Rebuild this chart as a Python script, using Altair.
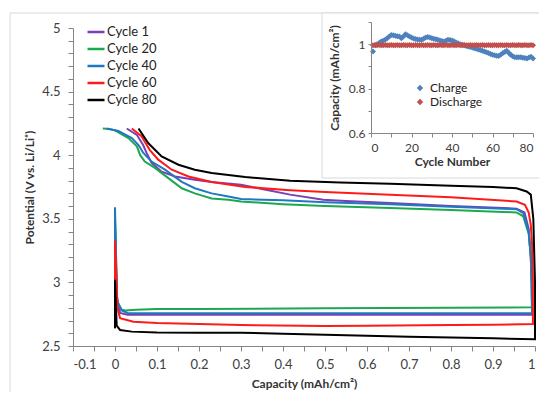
import altair as alt
import pandas as pd

# ---------------- main chart data ----------------
cycle_names = ["Cycle 1", "Cycle 20", "Cycle 40", "Cycle 60", "Cycle 80"]
cycle_colors = ["#7B3FB5", "#1BA84F", "#1F78C1", "#FF1A1A", "#000000"]

cap_c1 = [0.0, 0.0, 0.004, 0.012, 0.03, 0.1, 0.3, 0.5, 0.7, 0.9, 0.993, 0.992, 0.99, 0.985, 0.975,
          0.956, 0.8, 0.655, 0.55, 0.496, 0.417, 0.35, 0.3, 0.23, 0.19, 0.143, 0.111, 0.087, 0.075,
          0.067, 0.052, 0.028]
pot_c1 = [2.75, 3.45, 2.90, 2.76, 2.745, 2.745, 2.745, 2.745, 2.745, 2.745, 2.745, 3.0, 3.2, 3.42, 3.55,
          3.58, 3.60, 3.624, 3.64, 3.65, 3.69, 3.735, 3.768, 3.79, 3.807, 3.833, 3.87, 3.94, 4.02,
          4.08, 4.16, 4.21]

cap_c20 = [0.0, 0.0, 0.005, 0.016, 0.025, 0.05, 0.1, 0.2, 0.5, 0.8, 0.993, 0.992, 0.99, 0.985, 0.972,
           0.956, 0.8, 0.655, 0.5, 0.4, 0.3, 0.27, 0.23, 0.19, 0.159, 0.127, 0.095, 0.071, 0.06,
           0.052, 0.032, 0.0, -0.012, -0.029]
pot_c20 = [2.78, 3.50, 2.85, 2.785, 2.78, 2.785, 2.79, 2.79, 2.797, 2.80, 2.805, 3.0, 3.2, 3.38, 3.52,
           3.55, 3.57, 3.585, 3.60, 3.615, 3.636, 3.65, 3.66, 3.70, 3.74, 3.82, 3.90, 3.95, 4.0,
           4.07, 4.135, 4.195, 4.205, 4.21]

cap_c40 = [0.0, 0.0, 0.005, 0.016, 0.03, 0.1, 0.3, 0.5, 0.7, 0.9, 0.993, 0.992, 0.99, 0.985, 0.972,
           0.956, 0.8, 0.655, 0.5, 0.4, 0.3, 0.27, 0.23, 0.19, 0.159, 0.119, 0.087, 0.067, 0.056,
           0.04, 0.008, -0.02]
pot_c40 = [2.76, 3.59, 2.85, 2.78, 2.76, 2.757, 2.757, 2.757, 2.757, 2.757, 2.757, 3.0, 3.2, 3.40, 3.545,
           3.576, 3.595, 3.615, 3.63, 3.645, 3.655, 3.676, 3.70, 3.74, 3.79, 3.886, 3.95, 4.02, 4.08,
           4.135, 4.19, 4.21]

cap_c60 = [0.0, 0.0, 0.006, 0.012, 0.044, 0.1, 0.3, 0.5, 0.6, 0.8, 0.9, 0.995, 0.995, 0.993, 0.99,
           0.985, 0.976, 0.956, 0.8, 0.655, 0.5, 0.417, 0.31, 0.23, 0.175, 0.135, 0.103, 0.083,
           0.063, 0.04]
pot_c60 = [2.64, 3.327, 2.80, 2.718, 2.69, 2.68, 2.665, 2.657, 2.66, 2.665, 2.668, 2.672, 3.0, 3.3, 3.45,
           3.55, 3.61, 3.636, 3.67, 3.69, 3.71, 3.725, 3.75, 3.79, 3.833, 3.886, 3.965, 4.04,
           4.15, 4.21]

cap_c80 = [0.0, 0.0, 0.004, 0.012, 0.04, 0.1, 0.2, 0.3, 0.4, 0.5, 0.6, 0.7, 0.8, 0.9, 1.0, 1.0, 0.996,
           0.99, 0.98, 0.956, 0.9, 0.8, 0.655, 0.536, 0.417, 0.31, 0.23, 0.19, 0.151, 0.111, 0.079,
           0.056]
pot_c80 = [2.64, 3.02, 2.66, 2.626, 2.613, 2.607, 2.605, 2.605, 2.597, 2.588, 2.58, 2.573, 2.566, 2.56,
           2.553, 3.0, 3.5, 3.69, 3.715, 3.74, 3.75, 3.76, 3.776, 3.785, 3.80, 3.828, 3.86, 3.886,
           3.925, 3.99, 4.096, 4.21]

x_ticks = [-0.1, -0.05, 0.0, 0.05, 0.1, 0.15, 0.2, 0.25, 0.3, 0.35, 0.4, 0.45, 0.5, 0.55, 0.6, 0.65,
           0.7, 0.75, 0.8, 0.85, 0.9, 0.95, 1.0]
y_ticks = [2.5, 2.6, 2.7, 2.8, 2.9, 3.0, 3.1, 3.2, 3.3, 3.4, 3.5, 3.6, 3.7, 3.8, 3.9, 4.0, 4.1, 4.2,
           4.3, 4.4, 4.5, 4.6, 4.7, 4.8, 4.9, 5.0]

# ---------------- inset data ----------------
inset_cycles = list(range(1, 81))
charge = [0.967, 0.995, 1.000, 1.005, 1.012, 1.015, 1.020, 1.027, 1.035, 1.042,
          1.040, 1.038, 1.036, 1.035, 1.027, 1.035, 1.045, 1.040, 1.035, 1.030,
          1.026, 1.023, 1.021, 1.020, 1.020, 1.025, 1.030, 1.032, 1.030, 1.027,
          1.024, 1.022, 1.020, 1.017, 1.014, 1.012, 1.016, 1.020, 1.019, 1.017,
          1.013, 1.008, 1.004, 1.000, 0.997, 0.995, 0.992, 0.990, 0.987, 0.985,
          0.982, 0.979, 0.976, 0.974, 0.971, 0.967, 0.964, 0.960, 0.956, 0.952,
          0.950, 0.948, 0.947, 0.952, 0.959, 0.965, 0.971, 0.962, 0.952, 0.946,
          0.941, 0.941, 0.941, 0.941, 0.939, 0.938, 0.936, 0.940, 0.944, 0.936]
discharge = [0.995, 0.996, 0.995, 0.996, 0.995, 0.995, 0.996, 0.995, 0.995, 0.996,
             0.995, 0.995, 0.996, 0.995, 0.995, 0.996, 0.995, 0.995, 0.996, 0.995,
             0.995, 0.996, 0.995, 0.995, 0.996, 0.995, 0.995, 0.996, 0.995, 0.995,
             0.996, 0.995, 0.995, 0.996, 0.995, 0.995, 0.996, 0.995, 0.995, 0.996,
             0.995, 0.995, 0.996, 0.995, 0.995, 0.996, 0.995, 0.995, 0.996, 0.995,
             0.995, 0.996, 0.995, 0.995, 0.996, 0.995, 0.995, 0.996, 0.995, 0.995,
             0.996, 0.995, 0.995, 0.996, 0.995, 0.995, 0.996, 0.995, 0.995, 0.996,
             0.995, 0.995, 0.996, 0.995, 0.995, 0.996, 0.995, 0.995, 0.996, 0.995]
inset_kinds = ["Charge", "Discharge"]
inset_colors = ["#4F81BD", "#C0504D"]
inset_x_ticks = [0, 10, 20, 30, 40, 50, 60, 70, 80]
inset_y_ticks = [0.6, 0.7, 0.8, 0.9, 1.0, 1.1]

# ---------------- build tables ----------------
rows = []
for name, caps, pots in zip(cycle_names, [cap_c1, cap_c20, cap_c40, cap_c60, cap_c80],
                            [pot_c1, pot_c20, pot_c40, pot_c60, pot_c80]):
    for i, (c, p) in enumerate(zip(caps, pots)):
        rows.append({"cycle": name, "cap": c, "pot": p, "idx": i})
lines_df = pd.DataFrame(rows)

inset_df = pd.DataFrame({
    "n": inset_cycles + inset_cycles,
    "val": charge + discharge,
    "kind": ["Charge"] * len(charge) + ["Discharge"] * len(discharge),
})

FONT = "Lato"
AX = "#868686"
LBL = "#404040"

W, H = 462, 318

one = pd.DataFrame({"k": [0]})

outer = alt.Chart(one).mark_rect(fill="transparent", stroke="#D9D9D9", strokeWidth=1).encode(
    x=alt.value(-63), x2=alt.value(520), y=alt.value(-15), y2=alt.value(420)
)

lines = alt.Chart(lines_df).mark_line(strokeWidth=2).encode(
    x=alt.X("cap:Q", scale=alt.Scale(domain=[-0.1, 1.0], nice=False, zero=False),
            axis=alt.Axis(values=x_ticks, format=".1~f",
                          labelExpr="abs(round(datum.value*100)) % 10 == 0 ? replace(datum.label, '\u2212', '-') : ''",
                          title="Capacity (mAh/cm\u00b2)", grid=False, tickSize=5, labelPadding=7,
                          titlePadding=7, labelFontSize=13, titleFontSize=12, zindex=1)),
    y=alt.Y("pot:Q", scale=alt.Scale(domain=[2.5, 5.0], nice=False, zero=False),
            axis=alt.Axis(values=y_ticks, format=".1~f",
                          labelExpr="abs(round(datum.value*10)) % 5 == 0 ? datum.label : ''",
                          title="Potential (V vs. Li/Li\u207a)", grid=False, tickSize=5, labelPadding=8,
                          titlePadding=5, labelFontSize=13, titleFontSize=12, zindex=1)),
    color=alt.Color("cycle:N", scale=alt.Scale(domain=cycle_names, range=cycle_colors),
                    legend=alt.Legend(title=None, orient="none", legendX=13, legendY=-6,
                                      symbolType="stroke", symbolSize=289, symbolStrokeWidth=2.5,
                                      labelFontSize=13, labelColor="#222222", rowPadding=0,
                                      labelOffset=1, padding=0)),
    order="idx:Q",
)

inset_box = alt.Chart(one).mark_rect(fill="white", stroke="#D9D9D9", strokeWidth=1).encode(
    x=alt.value(249), x2=alt.value(520), y=alt.value(-15), y2=alt.value(150)
)

inset = alt.Chart(inset_df).mark_point(shape="diamond", filled=True, size=36, opacity=1).encode(
    x=alt.X("n:Q", scale=alt.Scale(domain=[0, 80], range=[298, 460], nice=False, zero=False),
            axis=alt.Axis(orient="bottom", offset=-213, values=inset_x_ticks,
                          labelExpr="datum.value % 20 == 0 ? datum.label : ''",
                          title="Cycle Number", grid=False, tickSize=4, labelPadding=5,
                          titlePadding=3, labelFontSize=12, titleFontSize=12, zindex=1)),
    y=alt.Y("val:Q", scale=alt.Scale(domain=[0.6, 1.1], range=[105, -6], nice=False, zero=False),
            axis=alt.Axis(orient="left", offset=-298, values=inset_y_ticks, format=".1~f",
                          labelExpr="abs(round(datum.value*10)) % 2 == 0 ? datum.label : ''",
                          title="Capacity (mAh/cm\u00b2)", grid=False, tickSize=3, labelPadding=3,
                          titlePadding=7, labelFontSize=12, titleFontSize=12, zindex=1)),
    color=alt.Color("kind:N", scale=alt.Scale(domain=inset_kinds, range=inset_colors),
                    legend=alt.Legend(title=None, orient="none", legendX=341, legendY=54,
                                      symbolType="diamond", symbolSize=40, labelFontSize=12,
                                      labelColor="#222222", rowPadding=2, labelOffset=4, padding=0)),
)

chart = alt.layer(outer, lines, inset_box, inset).resolve_scale(
    x="independent", y="independent", color="independent"
).resolve_legend(color="independent").properties(
    width=W, height=H,
    autosize=alt.AutoSizeParams(type="none"),
    padding={"left": 65, "top": 20, "right": 4, "bottom": 46},
    background="white",
).configure_view(stroke="transparent").configure_axis(
    labelFont=FONT, titleFont=FONT, domainColor=AX, tickColor=AX, labelColor=LBL,
    titleColor="#333333", titleFontWeight="bold", domainWidth=1, tickWidth=1
).configure_legend(labelFont=FONT)

chart.save("out.html", embed_options={"renderer": "svg", "actions": False})
